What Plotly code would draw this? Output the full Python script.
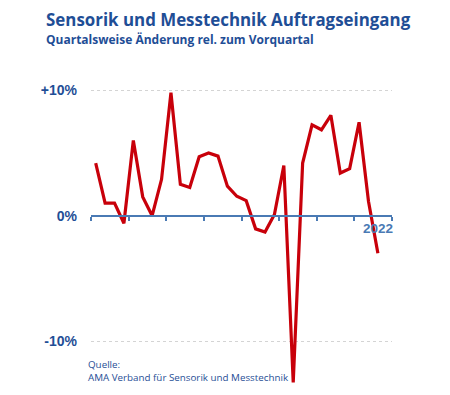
import plotly.graph_objects as go

quarters = list(range(31))  # Q1 2015 .. Q3 2022
values = [4.2, 1.0, 1.0, -0.6, 6.0, 1.5, 0.0, 2.9, 9.8, 2.5, 2.25, 4.7, 5.0, 4.75,
          2.35, 1.55, 1.2, -1.05, -1.3, 0.1, 4.0, -13.3, 4.2, 7.25, 6.85, 8.0,
          3.4, 3.75, 7.45, 1.15, -3.0]
y_ticks = [-10, 0, 10]
y_labels = ["-10%", "0%", "+10%"]
year_ticks = [0, 4, 8, 12, 16, 20, 24, 28, 32]

blue = "#1f4e96"
axis_blue = "#4a7ab4"
ymin, ymax = -13.5, 10.5

# the page body has an 8px margin; figure occupies page pixels 8..450 x 8..387
OFF = 8
W, H = 450 - OFF, 387 - OFF
L, R, T, B = 91 - OFF, 58, 84 - OFF, 2

x = [q + 0.5 for q in quarters]

fig = go.Figure()
fig.add_trace(go.Scatter(x=x, y=values, mode="lines",
                         line=dict(color="#c8000a", width=3.2),
                         hoverinfo="skip", showlegend=False))

fig.update_layout(
    width=W, height=H,
    margin=dict(l=L, r=R, t=T, b=B),
    paper_bgcolor="white", plot_bgcolor="white",
    font=dict(family="Open Sans", color=blue),
    xaxis=dict(range=[0, 32], tickvals=year_ticks, ticktext=[""] * len(year_ticks),
               showgrid=False, zeroline=False, showline=True, linecolor=axis_blue,
               linewidth=2, ticks="outside", ticklen=4, tickwidth=1.5, tickcolor=axis_blue,
               anchor="free", position=(0 - ymin) / (ymax - ymin)),
    yaxis=dict(range=[ymin, ymax], tickvals=y_ticks, ticktext=y_labels,
               showgrid=True, gridcolor="#d4d4d4", griddash="dot", gridwidth=1,
               zeroline=False, showline=False, ticks="", ticklabelstandoff=13,
               tickfont=dict(family="Liberation Sans", size=14, color=blue, weight="bold")),
)

pw = W - L - R
ph = H - T - B


def px(xp, yp):
    # page pixel -> paper coords
    return (xp - OFF - L) / pw, 1 - (yp - OFF - T) / ph


anns = []
ax, ay = px(44, 20)
anns.append(dict(text="<b>Sensorik und Messtechnik Auftragseingang</b>", x=ax, y=ay,
                 xref="paper", yref="paper", showarrow=False, xanchor="left", yanchor="middle",
                 font=dict(size=16.9, color=blue)))
ax, ay = px(44, 40)
anns.append(dict(text="<b>Quartalsweise Änderung rel. zum Vorquartal</b>", x=ax, y=ay,
                 xref="paper", yref="paper", showarrow=False, xanchor="left", yanchor="middle",
                 font=dict(size=12, color=blue)))
anns.append(dict(text="<b>2022</b>", x=32, y=0, xref="x", yref="y", showarrow=False,
                 xanchor="right", yanchor="top", yshift=-3, xshift=3,
                 font=dict(family="Liberation Sans", size=13.5, color=axis_blue)))
ax, ay = px(86, 356)
anns.append(dict(text="Quelle:<br>AMA Verband für Sensorik und Messtechnik", x=ax, y=ay,
                 xref="paper", yref="paper", showarrow=False, xanchor="left", yanchor="top",
                 align="left", font=dict(size=9.8, color=blue)))
fig.update_layout(annotations=anns)

fig.write_html("out.html")
